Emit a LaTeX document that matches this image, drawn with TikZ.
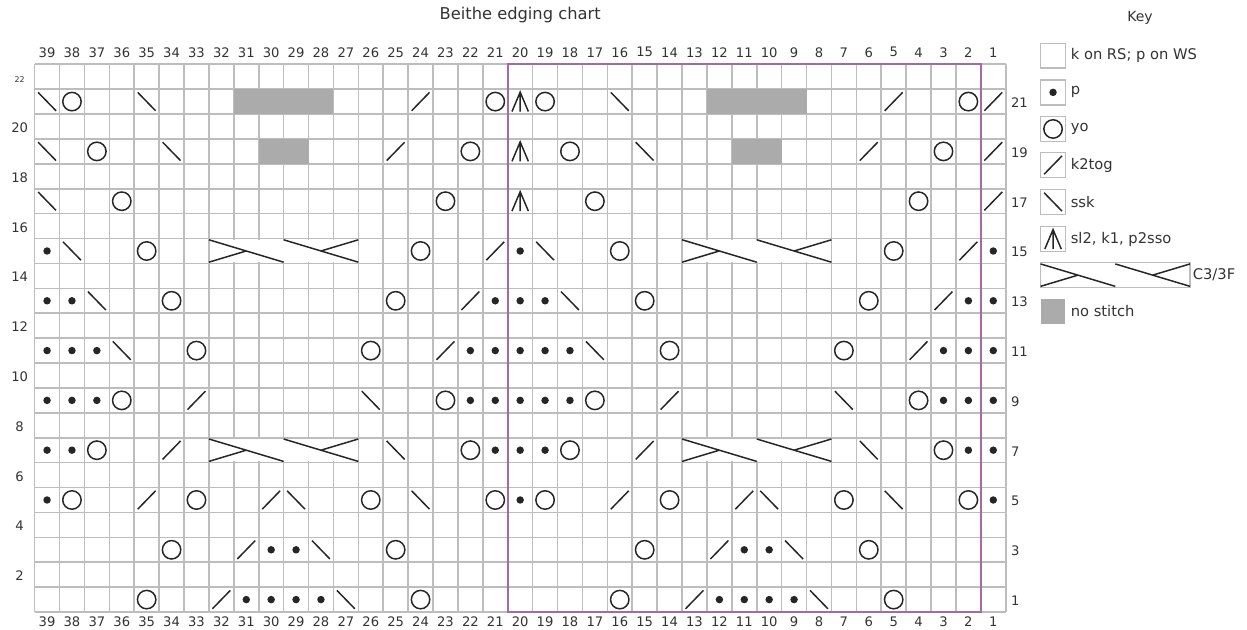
\documentclass[tikz,border=0pt]{standalone}
\usepackage{fontspec}
\setmainfont{DejaVu Sans}

\definecolor{gitterfarbe}{HTML}{BDBDBD}
\definecolor{rahmenfarbe}{HTML}{A46AA8}
\definecolor{leerfarbe}{HTML}{ABABAB}

\tikzset{
  gitter/.style={draw=gitterfarbe, line width=0.9pt},
  masche/.style={draw=black!85, line width=0.85pt},
  rahmen/.style={draw=rahmenfarbe, line width=1.1pt},
  leer/.style={fill=leerfarbe},
  zahl/.style={inner sep=0pt, text=black!80, font=\fontsize{7.5}{8}\selectfont},
  legende/.style={inner sep=0pt, anchor=west, text=black!80, font=\fontsize{8.4}{9}\selectfont},
}

% Symbole, #1/#2 = Mitte des Feldes
\newcommand{\umschlag}[2]{\draw[masche] ({#1},{#2}) circle (0.37);}
\newcommand{\linksm}[2]{\fill[black!85] ({#1},{#2}) circle (0.15);}
\newcommand{\rechtszus}[2]{\draw[masche] ({#1-0.36},{#2-0.37}) -- ({#1+0.36},{#2+0.37});}
\newcommand{\ueberzug}[2]{\draw[masche] ({#1-0.36},{#2+0.37}) -- ({#1+0.36},{#2-0.37});}
\newcommand{\doppelabn}[2]{\draw[masche] ({#1-0.33},{#2-0.4}) -- ({#1},{#2+0.38}) -- ({#1+0.33},{#2-0.4})
  ({#1},{#2+0.38}) -- ({#1},{#2-0.4});}
% Zopf, #1 = linker Rand, #2 = Oberkante
\newcommand{\zopf}[2]{%
  \fill[white] ({#1+0.07},{#2-0.93}) rectangle ({#1+5.93},{#2-0.07});
  \draw[masche]
    ({#1},{#2-0.05}) -- ({#1+3},{#2-0.95})
    ({#1},{#2-0.95}) -- ({#1+1.5},{#2-0.5})
    ({#1+3},{#2-0.05}) -- ({#1+6},{#2-0.95})
    ({#1+6},{#2-0.05}) -- ({#1+4.5},{#2-0.5});}

\begin{document}
\begin{tikzpicture}[x=0.5cm,y=0.5cm]
  \useasboundingbox (-1.39,-0.72) rectangle (48.69,24.58);

  % Gitter
  \draw[gitter, step=0.5cm] (0,0) grid (39,22);

  % Zoepfe und leere Felder
  \foreach \off in {0,19} {
    \zopf{7+\off}{15}
    \zopf{7+\off}{7}
    \fill[leer] (8+\off,20) rectangle (12+\off,21);
    \fill[leer] (9+\off,18) rectangle (11+\off,19);
  }

  % Maschen im Rapport (zweimal)
  \foreach \off in {0,19} {
    \foreach \k/\r in {2/21,19/21,3/19,18/19,4/17,17/17,5/15,16/15,6/13,15/13,
        7/11,14/11,4/9,17/9,3/7,18/7,2/5,7/5,14/5,19/5,6/3,15/3,5/1,16/1}
      {\umschlag{\k-0.5+\off}{\r-0.5}}
    \foreach \k/\r in {1/15,1/13,2/13,19/13,1/11,2/11,3/11,18/11,19/11,
        1/9,2/9,3/9,18/9,19/9,1/7,2/7,19/7,1/5,10/3,11/3,9/1,10/1,11/1,12/1}
      {\linksm{\k-0.5+\off}{\r-0.5}}
    \foreach \k/\r in {16/21,15/19,19/15,18/13,17/11,7/9,6/7,5/5,10/5,9/3,8/1}
      {\rechtszus{\k-0.5+\off}{\r-0.5}}
    \foreach \k/\r in {5/21,6/19,2/15,3/13,4/11,14/9,15/7,11/5,16/5,12/3,13/1}
      {\ueberzug{\k-0.5+\off}{\r-0.5}}
  }

  % erste Masche der Rapporte
  \foreach \r in {21,19,17} {
    \ueberzug{0.5}{\r-0.5}
    \doppelabn{19.5}{\r-0.5}
  }

  % Randmasche
  \foreach \r in {21,19,17} {\rechtszus{38.5}{\r-0.5}}
  \foreach \r in {15,13,...,5} {\linksm{38.5}{\r-0.5}}

  % Rapportrahmen
  \draw[rahmen] (19,0) rectangle (38,22);

  % Nummern
  \foreach \c in {1,...,39} {
    \node[zahl] (oben-\c) at ({39.5-\c},22.48) {\c};
    \node[zahl] (unten-\c) at ({39.5-\c},-0.385) {\c};
  }
  \foreach \r in {2,4,...,20} {\node[zahl] (ws-\r) at (-0.6,{\r-0.55}) {\r};}
  \node[zahl, font=\fontsize{4.5}{5}\selectfont] (ws-22) at (-0.6,21.4) {22};
  \foreach \r in {1,3,...,21} {\node[zahl, anchor=west] (rs-\r) at (39.2,{\r-0.55}) {\r};}

  % Titel
  \node[legende, anchor=center, font=\fontsize{9.3}{10}\selectfont] (titel) at (19.5,23.98) {Beithe edging chart};
  \node[legende, anchor=center, font=\fontsize{8}{9}\selectfont] (key) at (44.39,23.85) {Key};

  % Legende
  \foreach \y in {22.34,20.87,19.40,17.95,16.47,14.98} {
    \draw[gitter] (40.4,\y-0.5) rectangle (41.4,\y+0.5);
  }
  \linksm{40.9}{20.87}
  \umschlag{40.9}{19.40}
  \rechtszus{40.9}{17.95}
  \ueberzug{40.9}{16.47}
  \doppelabn{40.9}{14.98}
  \draw[gitter] (40.4,13.03) rectangle (46.4,14.03);
  \zopf{40.4}{14.03}
  \fill[leer] (40.4,11.58) rectangle (41.4,12.58);

  \node[legende] (k-rechts) at (41.6,22.34) {k on RS; p on WS};
  \node[legende] (k-links) at (41.6,20.87) {p};
  \node[legende] (k-umschlag) at (41.6,19.40) {yo};
  \node[legende] (k-rechtszus) at (41.6,17.95) {k2tog};
  \node[legende] (k-ueberzug) at (41.6,16.47) {ssk};
  \node[legende] (k-doppel) at (41.6,14.98) {sl2, k1, p2sso};
  \node[legende] (k-zopf) at (46.5,13.53) {C3/3F};
  \node[legende] (k-leer) at (41.6,12.08) {no stitch};

\end{tikzpicture}
\end{document}
